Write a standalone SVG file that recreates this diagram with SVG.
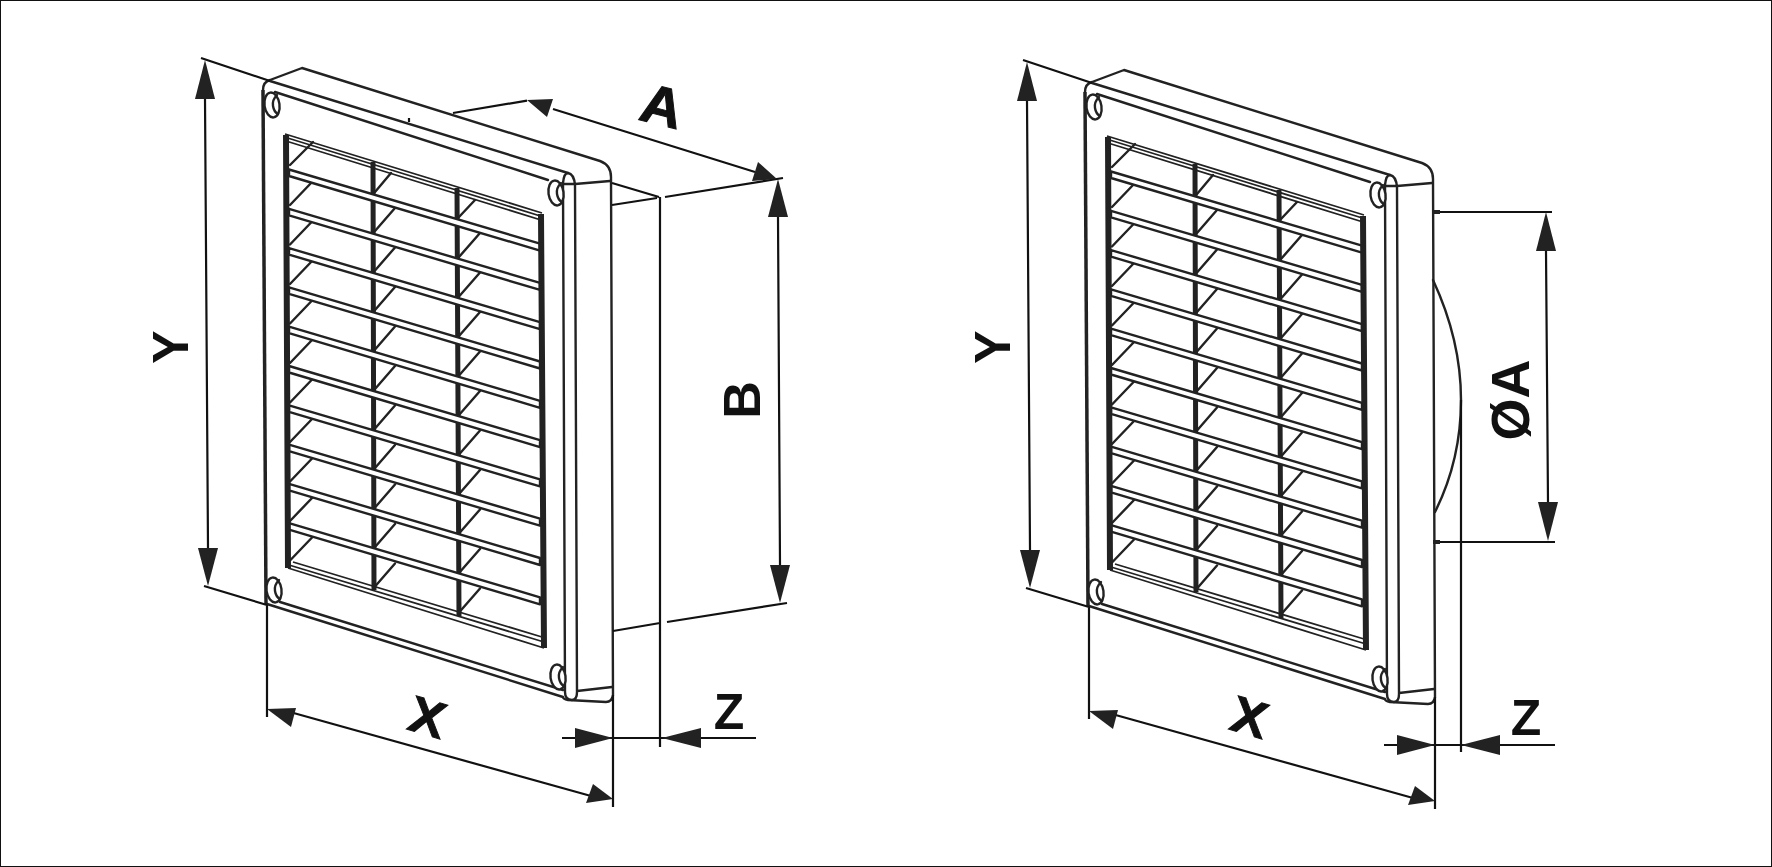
<svg xmlns="http://www.w3.org/2000/svg" xmlns:xlink="http://www.w3.org/1999/xlink" width="1772" height="867" viewBox="0 0 1772 867">
<style>
.l{fill:none;stroke:#222;stroke-width:2.400;stroke-linecap:round;stroke-linejoin:round}
.s{fill:#fff;stroke:#222;stroke-width:2.400;stroke-linejoin:round}
.d{fill:none;stroke:#111;stroke-width:2.200}
.k{fill:none;stroke:#222;stroke-width:6}
.m{fill:none;stroke:#222;stroke-width:5}
.t{fill:none;stroke:#222;stroke-width:1.800}
.h{fill:#222;stroke:none}
text{font-family:"Liberation Sans",Arial,sans-serif;font-weight:bold;font-size:50px;fill:#111;text-anchor:middle}
.i{font-style:italic;stroke:#111;stroke-width:1}
</style>
<defs>
<g id="hole"><ellipse cx="0" cy="0" rx="7.500" ry="12.500" transform="rotate(-8)" fill="#fff" stroke="#222" stroke-width="2.400"/><path d="M5 -10Q0 -5 1 1Q2 7 6 9" class="l"/></g>
<path id="slat" d="M289 169.500L540 243.600V250.600L289 176Z" class="s"/>
<g id="fan"><path d="M290 205L313 181M375 231L395 208M459 257L480 233" class="l"/></g>
<g id="frame">
<path d="M263 90Q263 82 270 80L302 68L600 161Q611 165 611 177L613 695Q612 702 606 702L568 700Q563 699 563 697L267 604" class="l"/>
<path d="M263 90L266 604" fill="none" stroke="#222" stroke-width="3.500"/>
<path d="M270 81L568 173M275 92L548 180M280 602L563 690" class="l"/>
<path d="M563 183Q564 173 568 173Q574 174 575 185L577 692Q577 700 572 700Q565 700 565 692L563 183M563 184H575L610 181M577 691L612 687" class="l"/>
<path d="M373 162L374 590M457 188L459 616" class="m"/>
<path d="M285 134L542 213M286 137.500L542 216.500M286 141L541 220" class="t"/>
<path d="M293 562L542 637M289 565L544 642M288 568L544 648" class="t"/>
<path d="M290 165L313 142M375 192L391 173M459 217L475 200" class="l"/>
<use xlink:href="#fan"/><use xlink:href="#fan" y="39.500"/><use xlink:href="#fan" y="79"/><use xlink:href="#fan" y="118.500"/><use xlink:href="#fan" y="158"/><use xlink:href="#fan" y="197.500"/><use xlink:href="#fan" y="237"/><use xlink:href="#fan" y="276.500"/><use xlink:href="#fan" y="316"/><use xlink:href="#fan" y="355.500"/>
<use xlink:href="#slat"/><use xlink:href="#slat" y="39.300"/><use xlink:href="#slat" y="78.600"/><use xlink:href="#slat" y="117.900"/><use xlink:href="#slat" y="157.200"/><use xlink:href="#slat" y="196.500"/><use xlink:href="#slat" y="235.800"/><use xlink:href="#slat" y="275.100"/><use xlink:href="#slat" y="314.400"/><use xlink:href="#slat" y="353.700"/>
<path d="M286 135L288 568M541 214L544 648" class="k"/>
<use xlink:href="#hole" x="272" y="105"/><use xlink:href="#hole" x="556" y="193"/><use xlink:href="#hole" x="274" y="590"/><use xlink:href="#hole" x="558" y="677"/>
</g>
<g id="dimsCommon">
<path d="M201 58L270 81M204 586L267 605M205 99L208 548M267 605V717M613 695V807" class="d"/>
<path d="M290 712L591 796" class="d"/>
<path class="h" d="M205 60L215 99H195Z"/><path class="h" d="M208 586L198 548H218Z"/>
<path class="h" d="M267 709L296 708L291 727Z"/><path class="h" d="M613 799L593 784L586 803Z"/>
</g>
</defs>
<rect x="0.500" y="0.500" width="1771" height="866" fill="#fff" stroke="#111" stroke-width="1"/>
<g id="louvre-left"><use xlink:href="#frame"/>
<path d="M409 118V122" class="d"/></g>
<g id="louvre-right"><use xlink:href="#frame" x="822" y="2"/>
<path d="M1433 280Q1461 340 1461 400Q1461 460 1435 512" class="l"/></g>
<g id="connectors">
<use xlink:href="#dimsCommon"/>
<use xlink:href="#dimsCommon" x="822" y="2"/>
<path d="M453 113L527 100.600M553 109L755 172M612 183L659 197M612 205L657 198M665 197L783 178M778 217L780 565M613 631L660 623M667 622L787 603M660 197V747M562 738H756" class="d"/>
<path class="h" d="M527 100L553 99L547 117Z"/><path class="h" d="M777 179L758 162L752 181Z"/>
<path class="h" d="M778 179L788 217H768Z"/><path class="h" d="M780 603L770 565H790Z"/>
<path class="h" d="M613 738L575 728V748Z"/><path class="h" d="M662 738L701 728V748Z"/>
<path d="M1433 212H1552M1433 542H1555M1546 251L1548 502M1461 400V752M1384 745H1555" class="d"/>
<path d="M1433 212H1440M1433 542H1440" stroke="#222" stroke-width="4" fill="none"/>
<path class="h" d="M1546 212L1556 251H1536Z"/><path class="h" d="M1548 541L1538 502H1558Z"/>
<path class="h" d="M1435 745L1397 735V755Z"/><path class="h" d="M1461 745L1500 735V755Z"/>
</g>
<g id="labels">
<text transform="translate(188 347) rotate(-90)">Y</text>
<text style="font-size:52px" transform="translate(760 400) rotate(-90)">B</text>
<text class="i" style="font-size:52px" transform="matrix(1 0.3 -0.05 1 426 735)">X</text>
<text class="i" style="font-size:56px" transform="matrix(1 0.25 -0.05 1 660 125)">A</text>
<text x="729" y="729">Z</text>
<text transform="translate(1010 347) rotate(-90)">Y</text>
<text class="i" style="font-size:52px" transform="matrix(1 0.3 -0.05 1 1248 735)">X</text>
<text style="font-size:54px" transform="translate(1529 400) rotate(-90)">ØA</text>
<text x="1526" y="735">Z</text>
</g>
</svg>
